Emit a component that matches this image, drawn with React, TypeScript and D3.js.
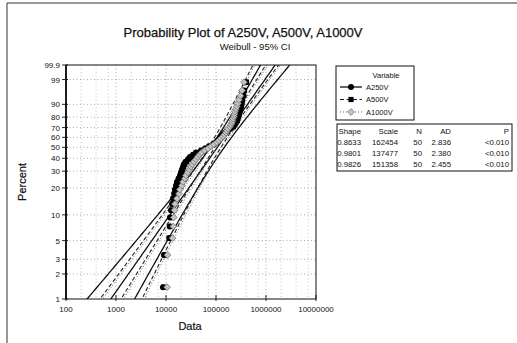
import React from 'react';
import * as d3 from 'd3';

// sorted failure data (one value per median rank)
const A250V = [8700, 9100, 11800, 11900, 12000, 12600, 13200, 13800, 14500, 15100, 15900, 16600, 17800, 19100, 20000, 20900, 21900, 22900, 24600, 27500, 30200, 34700, 39800, 50100, 60300, 72400, 87100, 100000, 109600, 120200, 125900, 138000, 151400, 166000, 190500, 218800, 234400, 245500, 263000, 269200, 275400, 288400, 295100, 302000, 316200, 323600, 331100, 346700, 363100, 398100];
const A500V = [9000, 9600, 11500, 12300, 12800, 13100, 13600, 14200, 15000, 15800, 16500, 17400, 18600, 19800, 20700, 21600, 22600, 23800, 25900, 28800, 32000, 36500, 42500, 52000, 63000, 76000, 90000, 102000, 112000, 121000, 129000, 141000, 155000, 172000, 197000, 222000, 238000, 250000, 266000, 274000, 281000, 292000, 300000, 309000, 321000, 330000, 340000, 355000, 372000, 405000];
const A1000V = [10500, 10700, 13500, 14000, 14300, 14800, 15100, 16600, 18200, 19000, 20900, 21900, 24000, 25100, 27500, 29500, 31600, 33900, 36300, 39800, 42700, 46800, 51300, 58900, 69200, 79400, 91200, 104700, 114800, 125900, 138000, 147900, 158500, 166000, 173800, 190500, 199500, 208900, 213800, 218800, 229100, 234400, 239900, 251200, 263000, 275400, 288400, 309000, 331100, 363100];

const variables = ['A250V', 'A500V', 'A1000V'];
const shapes = [0.8633, 0.9801, 0.9826];
const scales = [162454, 137477, 151358];
const ns = [50, 50, 50];
const ads = ['2.836', '2.380', '2.455'];
const pvals = ['<0.010', '<0.010', '<0.010'];

const xTicks = [100, 1000, 10000, 100000, 1000000, 10000000];
const yTicks = [1, 2, 3, 5, 10, 20, 30, 40, 50, 60, 70, 80, 90, 99, 99.9];

const W = 517, H = 343;
const left = 66, right = 316, top = 65, bottom = 299;
const font = '"Liberation Sans", Arial, sans-serif';

const wb = (p: number) => Math.log(-Math.log(1 - p));
const x = d3.scaleLog().domain([100, 1e7]).range([left, right]);
const yT = d3.scaleLinear().domain([wb(0.01), wb(0.999)]).range([bottom, top]);
const y = (pct: number) => yT(wb(pct / 100));

const styles = [
  { stroke: '#111', dash: '', width: 1.3 },
  { stroke: '#222', dash: '4,2.5', width: 1.1 },
  { stroke: '#666', dash: '1,2', width: 1 },
];

function Marker({ k, cx, cy }: { k: number; cx: number; cy: number }) {
  if (k === 0) return <circle cx={cx} cy={cy} r={3} fill="#000" />;
  if (k === 1) return <rect x={cx - 2.6} y={cy - 2.6} width={5.2} height={5.2} fill="#000" />;
  return (
    <path
      d={`M${cx},${cy - 3.4}L${cx + 3.4},${cy}L${cx},${cy + 3.4}L${cx - 3.4},${cy}Z`}
      fill="#c4c4c4"
      stroke="#666"
      strokeWidth={0.7}
    />
  );
}

export default function App() {
  const series = [A250V, A500V, A1000V];
  const tGrid = d3.range(wb(0.01) - 0.1, wb(0.999) + 0.1, 0.05);
  const line = d3
    .line<[number, number]>()
    .x(d => x(d[0]))
    .y(d => yT(d[1]));

  // fitted line and 95% CI from the shape/scale in the table
  const fits = shapes.map((beta, k) => {
    const b = 1 / beta;
    const u = Math.log(scales[k]);
    const n = ns[k];
    const mid: [number, number][] = [];
    const lo: [number, number][] = [];
    const hi: [number, number][] = [];
    tGrid.forEach(t => {
      const lx = u + t * b;
      const se = Math.sqrt((b * b / n) * (1.1087 + 2 * 0.257 * t + 0.6079 * t * t));
      mid.push([Math.exp(lx), t]);
      lo.push([Math.exp(lx - 1.96 * se), t]);
      hi.push([Math.exp(lx + 1.96 * se), t]);
    });
    return [mid, lo, hi];
  });

  const minor: number[] = [];
  xTicks.slice(0, -1).forEach(d => [2, 4, 7].forEach(m => minor.push(d * m)));

  const tableCols = [361, 398, 422, 451, 509];

  return (
    <svg width={W} height={H} style={{ position: 'absolute', left: 0, top: 0, background: '#fff' }} fontFamily={font}>
      <defs>
        <clipPath id="plot">
          <rect x={left} y={top} width={right - left} height={bottom - top} />
        </clipPath>
      </defs>
      <line x1={7} y1={3} x2={W} y2={3} stroke="#333" strokeWidth={1} />
      <line x1={7} y1={3} x2={7} y2={H} stroke="#333" strokeWidth={1} />

      <text x={243} y={37} textAnchor="middle" fontSize={13} fill="#111" stroke="#111" strokeWidth={0.25}>
        Probability Plot of A250V, A500V, A1000V
      </text>
      <text x={255} y={50} textAnchor="middle" fontSize={9.5} fill="#111">
        Weibull - 95% CI
      </text>

      {/* grid */}
      <g stroke="#888" strokeWidth={0.7} strokeDasharray="1,2.5">
        {yTicks.slice(1, -1).map(t => (
          <line key={'h' + t} x1={left} x2={right} y1={y(t)} y2={y(t)} />
        ))}
        {xTicks.slice(1, -1).map(t => (
          <line key={'v' + t} x1={x(t)} x2={x(t)} y1={top} y2={bottom} />
        ))}
        {minor.map(t => (
          <line key={'m' + t} x1={x(t)} x2={x(t)} y1={top} y2={bottom} stroke="#aaa" />
        ))}
      </g>

      <g clipPath="url(#plot)" fill="none">
        {fits.map((f, k) =>
          f.map((pts, j) => (
            <path
              key={k + '-' + j}
              d={line(pts) || ''}
              stroke={styles[k].stroke}
              strokeWidth={styles[k].width}
              strokeDasharray={styles[k].dash}
            />
          ))
        )}
      </g>

      <g>
        {series.map((vals, k) =>
          vals.map((v, i) => (
            <Marker key={k + '-' + i} k={k} cx={x(v)} cy={y(((i + 1 - 0.3) / (vals.length + 0.4)) * 100)} />
          ))
        )}
      </g>

      <rect x={left} y={top} width={right - left} height={bottom - top} fill="none" stroke="#111" strokeWidth={1} />
      <line x1={left} x2={left} y1={top} y2={bottom} stroke="#111" strokeWidth={1.8} />

      {/* y axis */}
      <g fontSize={8} fill="#111">
        {yTicks.map(t => (
          <g key={t}>
            <line x1={left - 4} x2={left + 2} y1={y(t)} y2={y(t)} stroke="#111" strokeWidth={0.9} />
            <text x={left - 6} y={y(t) + 3} textAnchor="end">{t}</text>
          </g>
        ))}
      </g>
      {/* x axis */}
      <g fontSize={8} fill="#111">
        {xTicks.map(t => (
          <g key={t}>
            <line x1={x(t)} x2={x(t)} y1={bottom + 2} y2={bottom - 4} stroke="#111" strokeWidth={0.9} />
            <text x={x(t)} y={bottom + 13} textAnchor="middle">{t}</text>
          </g>
        ))}
      </g>
      <text x={190} y={330} textAnchor="middle" fontSize={11} fill="#111" stroke="#111" strokeWidth={0.2}>Data</text>
      <text transform={`translate(26,${(top + bottom) / 2}) rotate(-90)`} textAnchor="middle" fontSize={11} fill="#111" stroke="#111" strokeWidth={0.2}>
        Percent
      </text>

      {/* legend */}
      <rect x={336} y={66} width={78} height={54} fill="#fff" stroke="#111" strokeWidth={1} />
      <text x={386} y={78} textAnchor="middle" fontSize={7.5} fill="#111">Variable</text>
      {variables.map((v, k) => {
        const ly = 87 + k * 12.5;
        return (
          <g key={v}>
            <line x1={340} x2={362} y1={ly} y2={ly} stroke={styles[k].stroke} strokeWidth={styles[k].width} strokeDasharray={styles[k].dash} />
            <Marker k={k} cx={351} cy={ly} />
            <text x={366} y={ly + 2.6} fontSize={7.5} fill="#111">{v}</text>
          </g>
        );
      })}

      {/* stats table */}
      <rect x={337} y={124} width={175} height={47} fill="#fff" stroke="#111" strokeWidth={1} />
      <g fontSize={7.8} fill="#111" textAnchor="end">
        {['Shape', 'Scale', 'N', 'AD', 'P'].map((h, c) => (
          <text key={h} x={tableCols[c]} y={134}>{h}</text>
        ))}
        {variables.map((v, k) => {
          const ry = 145 + k * 11;
          const cells = [shapes[k].toFixed(4), String(scales[k]), String(ns[k]), ads[k], pvals[k]];
          return (
            <g key={v}>
              {cells.map((c, j) => (
                <text key={j} x={tableCols[j]} y={ry}>{c}</text>
              ))}
            </g>
          );
        })}
      </g>
    </svg>
  );
}
